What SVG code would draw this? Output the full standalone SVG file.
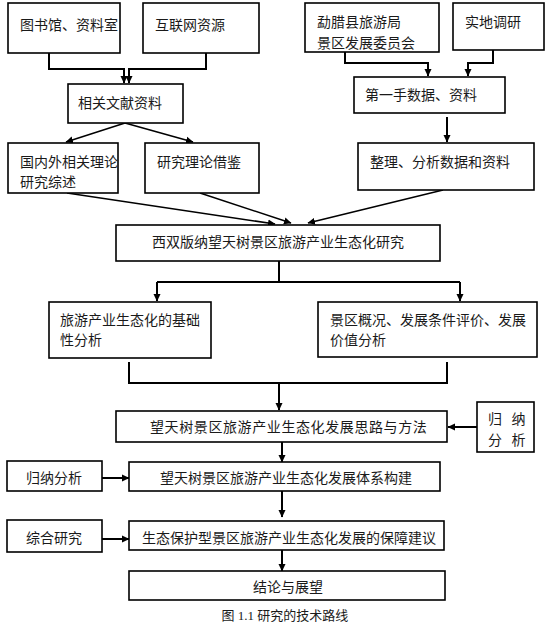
<svg xmlns="http://www.w3.org/2000/svg" width="555" height="626" viewBox="0 0 555 626">
<defs>
<marker id="ah" markerWidth="8" markerHeight="8" refX="7" refY="4" orient="auto" markerUnits="userSpaceOnUse">
<path d="M0,0.5 L7.5,4 L0,7.5 Z" fill="#000"/>
</marker>
</defs>
<style>
rect{fill:#fff;stroke:#000;stroke-width:1.6}
text{font-family:"Liberation Serif","Noto Sans CJK SC",serif;font-size:14px;fill:#1a1a1a}
.c{text-anchor:middle}
#connectors path,#connectors line{fill:none;stroke:#000;stroke-width:2}
#connectors .t{stroke-width:1.5}
</style>
<rect width="555" height="626" style="fill:#fff;stroke:none"/>
<g id="connectors">
<path d="M49,53 V69 H124 V83" marker-end="url(#ah)"/>
<path d="M206,53 V69 H129 V83" marker-end="url(#ah)"/>
<path d="M345,52 V63 H428 V76" marker-end="url(#ah)"/>
<path d="M493,50 V63 H468 V76" marker-end="url(#ah)"/>
<line class="t" x1="125" y1="123" x2="66" y2="142" marker-end="url(#ah)"/>
<line class="t" x1="125" y1="123" x2="193" y2="142" marker-end="url(#ah)"/>
<line x1="447" y1="117" x2="447" y2="142" marker-end="url(#ah)"/>
<line class="t" x1="67" y1="193" x2="275" y2="224" marker-end="url(#ah)"/>
<line class="t" x1="200" y1="193" x2="291" y2="223" marker-end="url(#ah)"/>
<line class="t" x1="443" y1="190" x2="308" y2="223" marker-end="url(#ah)"/>
<path d="M279,261 V282"/>
<path d="M157,282 H460"/>
<path d="M157,282 V301" marker-end="url(#ah)"/>
<path d="M460,282 V301" marker-end="url(#ah)"/>
<path d="M129,362 V383 H447 V362"/>
<path d="M279,383 V410" marker-end="url(#ah)"/>
<path d="M477,427 H448" marker-end="url(#ah)"/>
<path d="M282,442 V462" marker-end="url(#ah)"/>
<path d="M102,478 H129" marker-end="url(#ah)"/>
<path d="M282,491 V517" marker-end="url(#ah)"/>
<path d="M102,539 H129" marker-end="url(#ah)"/>
<path d="M282,550 V571" marker-end="url(#ah)"/>
</g>
<g id="n-lib"><rect x="8" y="3" width="112" height="50"/><text x="20" y="30">图书馆、资料室</text></g>
<g id="n-web"><rect x="143" y="3" width="116" height="50"/><text x="155" y="30">互联网资源</text></g>
<g id="n-bureau"><rect x="305" y="3" width="134" height="49"/><text x="317" y="27">勐腊县旅游局</text><text x="317" y="48">景区发展委员会</text></g>
<g id="n-field"><rect x="453" y="3" width="91" height="47"/><text x="465" y="27">实地调研</text></g>
<g id="n-lit"><rect x="68" y="84" width="115" height="39"/><text x="78" y="108">相关文献资料</text></g>
<g id="n-first"><rect x="354" y="77" width="151" height="36"/><text x="365" y="100">第一手数据、资料</text></g>
<g id="n-review"><rect x="8" y="143" width="110" height="50"/><text x="20" y="167">国内外相关理论</text><text x="20" y="187">研究综述</text></g>
<g id="n-theory"><rect x="145" y="143" width="114" height="50"/><text x="157" y="167">研究理论借鉴</text></g>
<g id="n-process"><rect x="358" y="143" width="176" height="47"/><text x="370" y="167">整理、分析数据和资料</text></g>
<g id="n-main"><rect x="116" y="225" width="324" height="36"/><text class="c" x="278" y="247">西双版纳望天树景区旅游产业生态化研究</text></g>
<g id="n-basis"><rect x="49" y="302" width="162" height="56"/><text x="60" y="325">旅游产业生态化的基础</text><text x="60" y="345">性分析</text></g>
<g id="n-overview"><rect x="318" y="302" width="219" height="55"/><text x="330" y="325">景区概况、发展条件评价、发展</text><text x="330" y="345">价值分析</text></g>
<g id="n-idea"><rect x="116" y="411" width="331" height="31"/><text x="150" y="432" style="letter-spacing:0.6px">望天树景区旅游产业生态化发展思路与方法</text></g>
<g id="n-induct-r"><rect x="477" y="402" width="57" height="50"/><text x="488" y="424" style="letter-spacing:3px">归 纳</text><text x="488" y="445" style="letter-spacing:3px">分 析</text></g>
<g id="n-system"><rect x="129" y="462" width="311" height="29"/><text x="160" y="483">望天树景区旅游产业生态化发展体系构建</text></g>
<g id="n-induct-l"><rect x="7" y="461" width="95" height="30"/><text class="c" x="54" y="483">归纳分析</text></g>
<g id="n-guarantee"><rect x="129" y="521" width="315" height="29"/><text x="142" y="543">生态保护型景区旅游产业生态化发展的保障建议</text></g>
<g id="n-synth"><rect x="7" y="520" width="95" height="32"/><text class="c" x="54" y="543">综合研究</text></g>
<g id="n-concl"><rect x="129" y="571" width="316" height="29"/><text class="c" x="288" y="592">结论与展望</text></g>
<text class="c" x="285" y="620" style="font-size:13px">图 1.1 研究的技术路线</text>
</svg>
